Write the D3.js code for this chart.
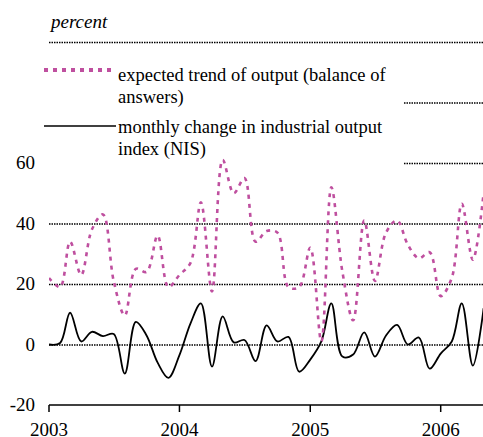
<!DOCTYPE html>
<html>
<head>
<meta charset="utf-8">
<script src="https://cdn.jsdelivr.net/npm/d3@7"></script>
<style>
  body { margin: 0; background: #fff; }
  svg { display: block; }
</style>
</head>
<body>
<svg id="svg" width="483" height="437" font-family="Liberation Serif"></svg>
<script>
// monthly values, Jan 2003 .. May 2006
const firstMonth = new Date(2003, 0, 1);
const expectedTrend = [
    22, 19, 34, 23, 38, 43, 21, 9.6, 25, 24, 36, 19,
    23, 27, 47, 17.5, 61, 50, 55, 34, 37.5, 37, 19, 19,
    32, 1, 52, 24, 8, 41, 21, 37, 41, 33, 28.5, 30.5,
    16, 22, 46.5, 28, 50
];
const outputChange = [
    0, 0.5, 10.5, 1, 4.2, 2.8, 3.5, -9.6, 7.5, 3, -6, -11,
    -3.5, 7, 13.6, -7.3, 9.3, 0.7, 1.5, -5.5, 6.3, 1, 2.5, -9,
    -5, 1, 13.6, -4, -3.3, 4, -4, 3, 6.5, 0, 2.3, -8,
    -3, 1, 13.6, -7, 12
];
const yearTicks = [2003, 2004, 2005, 2006];
const yTicks = [-20, 0, 20, 40, 60];
const gridValues = [0, 20, 40, 60, 80, 100];
const legendItems = [
    {lines: ["expected trend of output (balance of", "answers)"], dashed: true},
    {lines: ["monthly change in industrial output", "index (NIS)"], dashed: false}
];

draw();

function draw({
    width = 483,
    height = 437,
    left = 49,
    magenta = "#bf4f9f",
    legendRight = 404,
    font = "Liberation Serif"
} = {}) {
    const svg = d3.select("#svg");

    const x = d3.scaleTime()
        .domain([new Date(2003, 0, 1), new Date(2006, 0, 1)])
        .range([left, 440.7]);
    const y = d3.scaleLinear().domain([-20, 100]).range([405, 42]);

    const dates = expectedTrend.map((_, i) => d3.timeMonth.offset(firstMonth, i));

    svg.append("defs").append("clipPath").attr("id", "plot")
        .append("rect")
        .attr("x", left).attr("y", 0)
        .attr("width", width - left).attr("height", height);

    // dotted gridlines (legend covers the upper left part)
    svg.append("g")
        .selectAll("line")
        .data(gridValues)
        .join("line")
        .attr("x1", d => (d === 60 || d === 80) ? legendRight : left)
        .attr("x2", width)
        .attr("y1", d => y(d) + 0.5)
        .attr("y2", d => y(d) + 0.5)
        .attr("stroke", "#000")
        .attr("stroke-width", 1.3)
        .attr("stroke-dasharray", "1.5,1");

    // y labels
    svg.append("g")
        .selectAll("text")
        .data(yTicks)
        .join("text")
        .attr("x", 35)
        .attr("y", d => y(d))
        .attr("dy", "0.34em")
        .attr("text-anchor", "end")
        .attr("font-size", 19)
        .attr("font-family", font)
        .text(d => d);

    // x axis
    const xAxis = svg.append("g").attr("transform", `translate(0, ${y(-20)})`);
    xAxis.append("line")
        .attr("x1", left).attr("x2", width)
        .attr("stroke", "#000").attr("stroke-width", 1.5);
    const tick = xAxis.selectAll("g")
        .data(yearTicks)
        .join("g")
        .attr("transform", d => `translate(${x(new Date(d, 0, 1))}, 0)`);
    tick.append("line")
        .attr("y2", 7)
        .attr("stroke", "#000").attr("stroke-width", 1.5);
    tick.append("text")
        .attr("y", 31)
        .attr("text-anchor", "middle")
        .attr("font-size", 19)
        .attr("font-family", font)
        .text(d => d);

    svg.append("text")
        .attr("x", 51).attr("y", 28)
        .attr("font-style", "italic")
        .attr("font-size", 19)
        .attr("font-family", font)
        .text("percent");

    // series
    const line = vals => d3.line()
        .x((_, i) => x(dates[i]))
        .y(d => y(d))
        .curve(d3.curveCatmullRom.alpha(0.5))(vals);

    const plot = svg.append("g").attr("clip-path", "url(#plot)");
    plot.append("path")
        .attr("d", line(outputChange))
        .attr("fill", "none")
        .attr("stroke", "#000")
        .attr("stroke-width", 1.8);
    plot.append("path")
        .attr("d", line(expectedTrend))
        .attr("fill", "none")
        .attr("stroke", magenta)
        .attr("stroke-width", 2.6)
        .attr("stroke-dasharray", "4,5");

    // legend
    const symbolY = [70, 126];
    const textY = [81, 133];
    legendItems.forEach((item, k) => {
        svg.append("line")
            .attr("x1", 44).attr("x2", 116)
            .attr("y1", symbolY[k]).attr("y2", symbolY[k])
            .attr("stroke", item.dashed ? magenta : "#000")
            .attr("stroke-width", item.dashed ? 4 : 1.5)
            .attr("stroke-dasharray", item.dashed ? "4,5" : null);
        item.lines.forEach((t, i) => {
            svg.append("text")
                .attr("x", 118)
                .attr("y", textY[k] + i * 22)
                .attr("font-size", 18.5)
                .attr("font-family", font)
                .text(t);
        });
    });
}
</script>
</body>
</html>
